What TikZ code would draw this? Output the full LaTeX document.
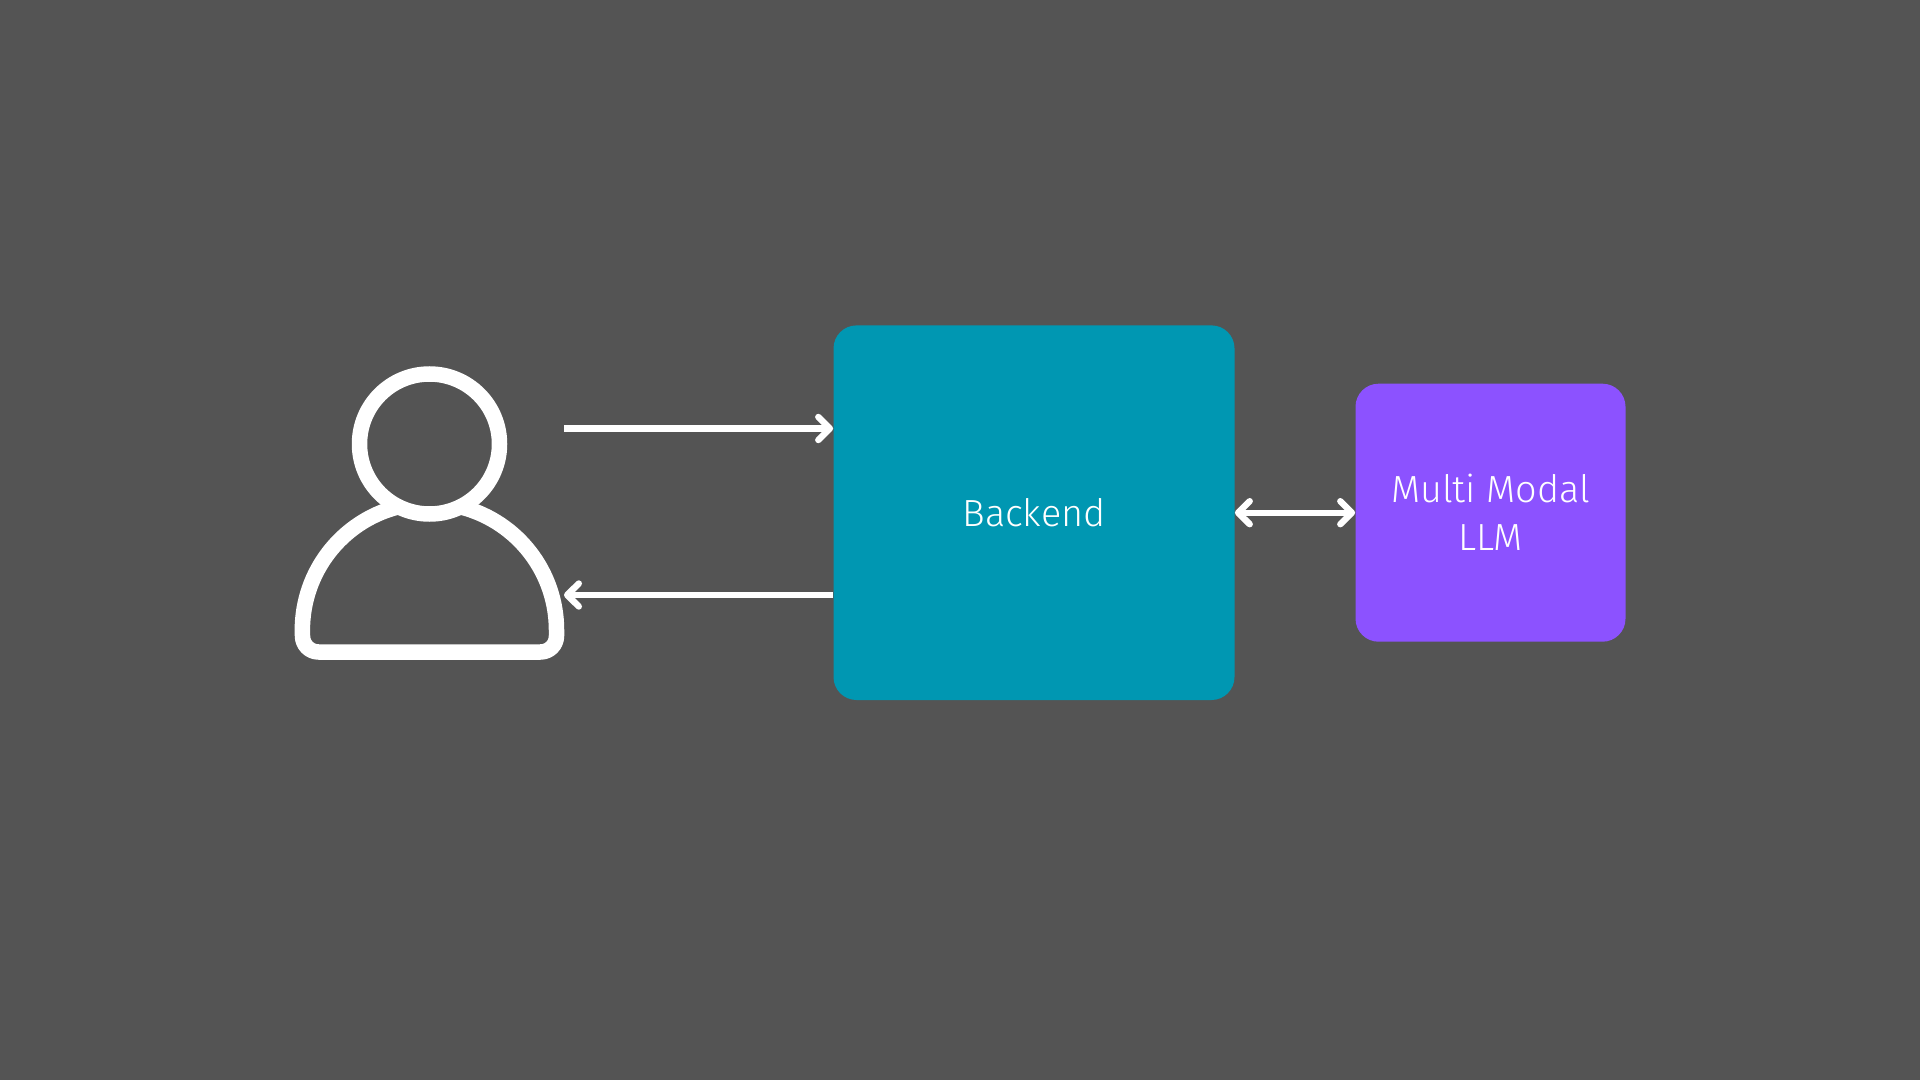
\documentclass[tikz,border=0pt]{standalone}
\usepackage{fontspec}
\setmainfont{Fira Sans Light}
\usetikzlibrary{arrows.meta}
\definecolor{bg}{HTML}{545454}
\definecolor{tealbox}{HTML}{0097B2}
\definecolor{purplebox}{HTML}{8C52FF}
\tikzset{
  x=0.5pt,y=-0.5pt,
  boxnode/.style={rounded corners=11.5pt,inner sep=0pt,text=white,align=center,font=\fontsize{18.9}{24}\selectfont},
  outline/.style={draw=white,line width=7.75pt},
  link/.style={draw=white,line width=3.2pt,arrows={-Straight Barb[length=5.8pt,width=11.5pt,round]}},
  biglink/.style={draw=white,line width=3.2pt,arrows={Straight Barb[length=5.8pt,width=11.5pt,round]-Straight Barb[length=5.8pt,width=11.5pt,round]}}
}
\begin{document}
\begin{tikzpicture}
\useasboundingbox (0,0) rectangle (1920,1080);
\fill[bg] (0,0) rectangle (1920,1080);
\node[boxnode,fill=tealbox,minimum width=200.5pt,minimum height=187.3pt] (backend) at (1034,512.7) {Backend};
\node[boxnode,fill=purplebox,minimum width=135pt,minimum height=129pt] (llm) at (1490.5,512.7) {Multi Modal\\LLM};
% person
\draw[outline,line join=round] (396.5,507.3) arc[start angle=-105,end angle=-180,radius=127] -- (302.5,636) arc[start angle=-180,end angle=-270,radius=16]
  -- (540.5,652) arc[start angle=-270,end angle=-360,radius=16] -- (556.5,630) arc[start angle=0,end angle=-75,radius=127];
\draw[outline,fill=bg] (429.5,444) circle[radius=70];
\coordinate (userOut) at (564,428.5);
\coordinate (userIn) at (564,595);
\draw[link] (userOut) -- (userOut -| backend.west);
\draw[link] (userIn -| backend.west) -- (userIn);
\draw[biglink] (backend.east) -- (llm.west);
\end{tikzpicture}
\end{document}
